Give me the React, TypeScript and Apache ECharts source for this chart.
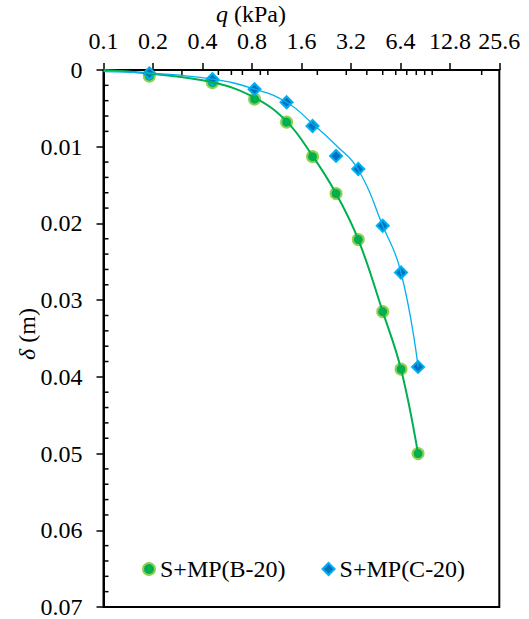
import React, { useEffect, useRef } from "react";
import * as echarts from "echarts";

// Measured points (shared q values)
const qValues = [0.19, 0.46, 0.83, 1.3, 1.87, 2.6, 3.55, 5.0, 6.46, 8.2];
const deflB = [0.0008, 0.00165, 0.0038, 0.0068, 0.0113, 0.0161, 0.0221, 0.0315, 0.039, 0.05];
const deflC = [0.00043, 0.0012, 0.0025, 0.0042, 0.0073, 0.0112, 0.0129, 0.0203, 0.0264, 0.0387];

// Fitted curves
const fitQ = [0.1, 0.19, 0.46, 0.83, 1.3, 1.87, 2.6, 3.55, 5.0, 6.46, 8.2];
const fitB = [0, 0.00045, 0.0016, 0.0036, 0.0067, 0.0112, 0.0161, 0.0221, 0.0315, 0.039, 0.05];
const fitC = [0.0002, 0.0004, 0.0012, 0.0025, 0.0042, 0.007, 0.0098, 0.013, 0.0203, 0.0264, 0.0387];

// Axis minor ticks
const xMinorTicks = [0.3, 0.5, 0.6, 0.7, 0.9, 1, 2, 3, 4, 5, 6, 7, 8, 9, 10, 20];
const yMinorTicks = [
  0.002, 0.004, 0.006, 0.008, 0.012, 0.014, 0.016, 0.018, 0.022, 0.024, 0.026, 0.028,
  0.032, 0.034, 0.036, 0.038, 0.042, 0.044, 0.046, 0.048, 0.052, 0.054, 0.056, 0.058,
  0.062, 0.064, 0.066, 0.068,
];
const seriesNames = ["S+MP(B-20)", "S+MP(C-20)"];

const FONT = "'Liberation Serif', 'Times New Roman', serif";

export default function App() {
  const ref = useRef<HTMLDivElement>(null);
  useEffect(() => {
    if (!ref.current) return;
    const chart = echarts.init(ref.current, undefined, { renderer: "svg" });
    const pairs = (xs: number[], ys: number[]) => xs.map((x, i) => [x, ys[i]]);
    chart.setOption({
      animation: false,
      textStyle: { fontFamily: FONT },
      grid: {
        left: 103.5,
        right: 29.7,
        top: 70,
        bottom: 9.7,
        show: true,
        borderColor: "#000",
        borderWidth: 2,
        backgroundColor: "transparent",
      },
      graphic: [
        {
          type: "text",
          x: 251,
          y: 14,
          style: {
            text: "{i|q} (kPa)",
            textAlign: "center",
            textVerticalAlign: "middle",
            font: `24px ${FONT}`,
            fill: "#000",
            rich: { i: { fontStyle: "italic", fontSize: 24, fontFamily: FONT } },
          },
        },
        {
          type: "text",
          x: 27,
          y: 334,
          rotation: Math.PI / 2,
          style: {
            text: "{i|δ} (m)",
            textAlign: "center",
            textVerticalAlign: "middle",
            font: `24px ${FONT}`,
            fill: "#000",
            rich: { i: { fontStyle: "italic", fontSize: 24, fontFamily: FONT } },
          },
        },
      ],
      legend: {
        data: seriesNames,
        left: 137,
        top: 552,
        itemWidth: 12,
        itemHeight: 12,
        itemGap: 36,
        textStyle: { fontSize: 24, fontFamily: FONT, color: "#000" },
      },
      xAxis: {
        type: "log",
        logBase: 2,
        min: 0.1,
        max: 25.6,
        interval: 1,
        position: "top",
        axisLine: { lineStyle: { color: "#000", width: 2 } },
        axisTick: { inside: false, length: 7, lineStyle: { color: "#000", width: 1.5 } },
        splitLine: { show: false },
        axisLabel: {
          margin: 17,
          fontSize: 24,
          fontFamily: FONT,
          color: "#000",
          formatter: (v: number) => String(Math.round(v * 10) / 10),
        },
      },
      yAxis: {
        type: "value",
        inverse: true,
        min: 0,
        max: 0.07,
        interval: 0.01,
        axisLine: { lineStyle: { color: "#000", width: 2 } },
        axisTick: { inside: false, length: 7, lineStyle: { color: "#000", width: 1.5 } },
        splitLine: { show: false },
        axisLabel: { margin: 21, fontSize: 24, fontFamily: FONT, color: "#000" },
      },
      series: [
        {
          type: "custom",
          name: "xminor",
          silent: true,
          clip: false,
          data: xMinorTicks.map((q) => [q, 0]),
          renderItem: (params: any, api: any) => {
            const p = api.coord([api.value(0), 0]);
            return {
              type: "line",
              shape: { x1: p[0], y1: p[1], x2: p[0], y2: p[1] + 5 },
              style: { stroke: "#000", lineWidth: 1.5 },
            };
          },
        },
        {
          type: "custom",
          name: "yminor",
          silent: true,
          clip: false,
          data: yMinorTicks.map((d) => [0.1, d]),
          renderItem: (params: any, api: any) => {
            const p = api.coord([api.value(0), api.value(1)]);
            return {
              type: "line",
              shape: { x1: p[0], y1: p[1], x2: p[0] + 5, y2: p[1] },
              style: { stroke: "#000", lineWidth: 1.5 },
            };
          },
        },
        {
          type: "line",
          name: "fitB",
          data: pairs(fitQ, fitB),
          smooth: 0.4,
          showSymbol: false,
          symbol: "none",
          lineStyle: { color: "#00b050", width: 2 },
          silent: true,
        },
        {
          type: "line",
          name: "fitC",
          data: pairs(fitQ, fitC),
          smooth: 0.5,
          showSymbol: false,
          symbol: "none",
          lineStyle: { color: "#00b0f0", width: 1.3 },
          silent: true,
        },
        {
          type: "scatter",
          name: seriesNames[0],
          data: pairs(qValues, deflB),
          symbol: "circle",
          symbolSize: 11,
          itemStyle: { color: "#00b050", borderColor: "#92d050", borderWidth: 2, opacity: 1 },
        },
        {
          type: "scatter",
          name: seriesNames[1],
          data: pairs(qValues, deflC),
          symbol: "diamond",
          symbolSize: 12,
          itemStyle: { color: "#0070c0", borderColor: "#00b0f0", borderWidth: 2, opacity: 1 },
        },
      ],
    });
    return () => chart.dispose();
  }, []);
  return (
    <div
      ref={ref}
      style={{ position: "fixed", left: 0, top: 0, width: 529, height: 619, background: "#fff" }}
    />
  );
}
